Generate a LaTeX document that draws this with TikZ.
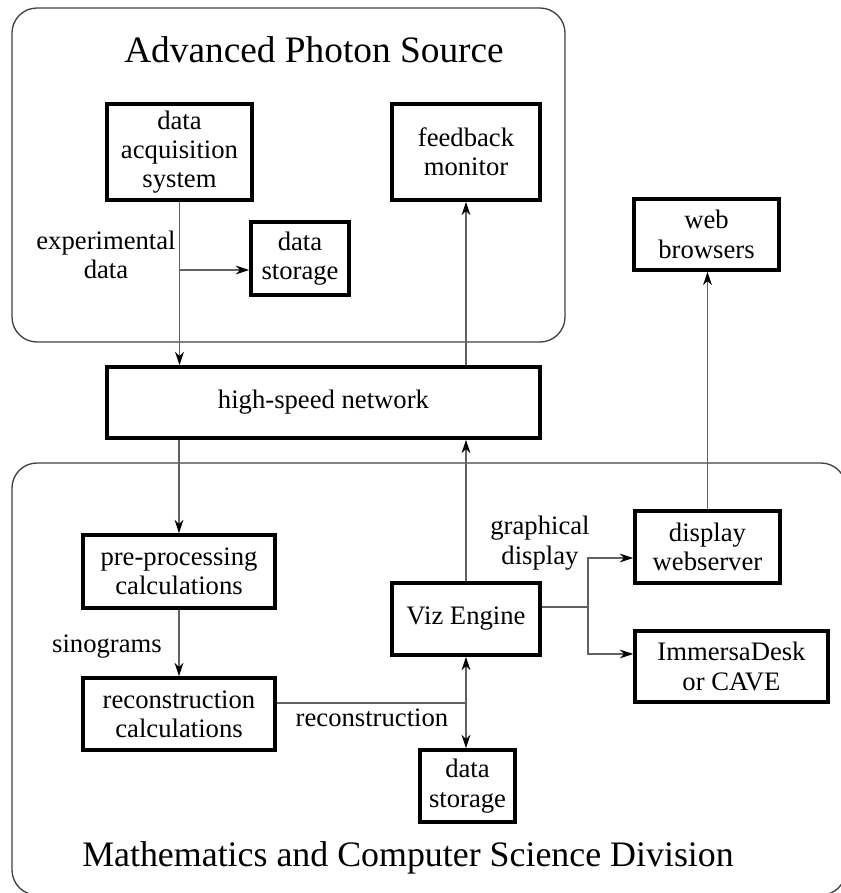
\documentclass[tikz,border=0pt]{standalone}
\usepackage{fontspec}
\setmainfont{Liberation Serif}
\usetikzlibrary{arrows.meta}
\tikzset{
  unit/.style={x=0.75pt,y=-0.75pt},
  block/.style={draw=black,line width=2.6pt,fill=white,align=center,inner sep=2pt,
    font=\fontsize{20}{22}\selectfont},
  sz/.style 2 args={minimum width=#1*0.75pt,minimum height=#2*0.75pt},
  region/.style={draw=black!75,line width=1pt,rounded corners=18.75pt},
  conn/.style={draw=black!62,line width=1pt},
  arr/.style={conn,-{Stealth[length=10pt,width=6.5pt,inset=3pt,black]}},
  lbl/.style={align=center,font=\fontsize{20}{22}\selectfont},
  title/.style={font=\fontsize{28}{32}\selectfont}
}
\begin{document}
\begin{tikzpicture}[unit]
\useasboundingbox (0,0) rectangle (841,893);
\clip (0,0) rectangle (841,893);

% the two sites
\draw[region] (12,8) rectangle (565,342);
\draw[region] (12,463) rectangle (846,895);
\node[title] (aps) at (314,50) {Advanced Photon Source};
\node[title,font=\fontsize{26.9}{32}\selectfont] (mcs) at (408,858) {Mathematics and Computer Science Division};

% blocks
\node[block,sz={145}{96}] (daq) at (179.5,152) {data\\acquisition\\system};
\node[block,sz={148}{96}] (fbm) at (466,152) {feedback\\monitor};
\node[block,sz={145}{71}] (web) at (706.5,234.5) {web\\browsers};
\node[block,sz={98}{73}]  (ds1) at (300,258.5) {data\\storage};
\node[block,sz={433}{71}] (net) at (323.5,402.5) {high-speed network};
\node[block,sz={192}{73}] (pre) at (179,571.5) {pre-processing\\calculations};
\node[block,sz={192}{72}] (rec) at (179,714) {reconstruction\\calculations};
\node[block,sz={148}{72}] (viz) at (466,619) {Viz Engine};
\node[block,sz={95}{72}]  (ds2) at (467.5,786) {data\\storage};
\node[block,sz={145}{72}] (dws) at (707.5,547) {display\\webserver};
\node[block,sz={193}{71}] (imm) at (731.5,666.5) {ImmersaDesk\\or CAVE};

% labels
\node[lbl] (lexp) at (106,255) {experimental\\data};
\node[lbl] (lsin) at (107,647) {sinograms};
\node[lbl] (lrec) at (372,718) {reconstruction};
\node[lbl] (lgra) at (540,543) {graphical\\display};

% junctions
\coordinate (br) at (daq.south |- 0,270);
\coordinate (rj) at (viz.south |- 0,703);
\coordinate (vj) at (588,607);

% connectors
\draw[arr] (daq.south) -- (daq.south |- net.north);
\draw[arr] (br) -- (br -| ds1.west);
\draw[arr] (net.south -| pre.north) -- (pre.north);
\draw[arr] (pre.south) -- (rec.north);
\draw[conn] (rec.east |- rj) -- (rj);
\draw[arr] (rj) -- (rj |- viz.south);
\draw[arr] (rj) -- (rj |- ds2.north);
\draw[arr] (viz.north) -- (viz.north |- net.south);
\draw[arr] (fbm.south |- net.north) -- (fbm.south);
\draw[conn] (viz.east |- vj) -- (vj);
\draw[arr] (vj) |- ([yshift=-8.25pt]dws.west);
\draw[arr] (vj) |- ([yshift=9.4pt]imm.west);
\draw[arr] (dws.north) -- (dws.north |- web.south);
\end{tikzpicture}
\end{document}
